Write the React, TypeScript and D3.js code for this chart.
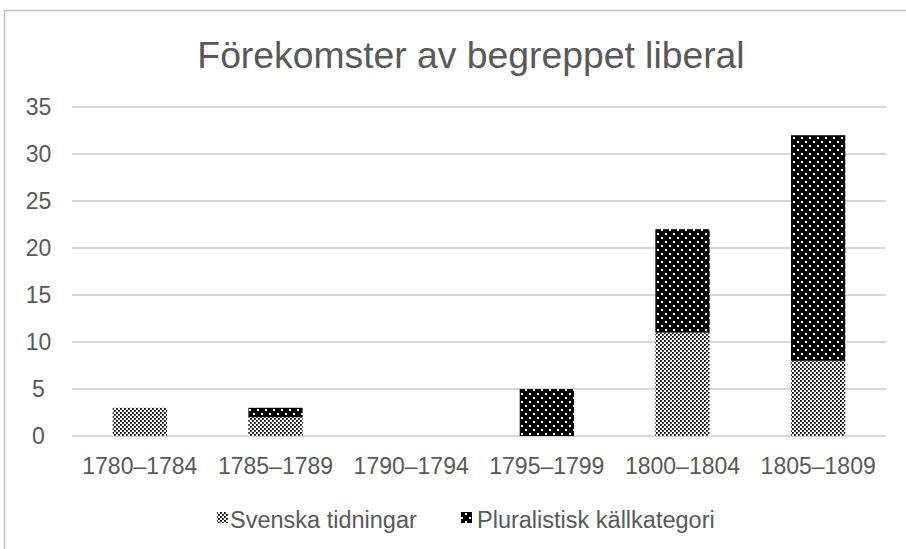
import React from 'react';
import * as d3 from 'd3';

const categories = ['1780–1784', '1785–1789', '1790–1794', '1795–1799', '1800–1804', '1805–1809'];
const svenska = [3, 2, 0, 0, 11, 8];
const pluralistisk = [0, 1, 0, 5, 11, 24];
const seriesNames = ['Svenska tidningar', 'Pluralistisk källkategori'];
const yTicks = [0, 5, 10, 15, 20, 25, 30, 35];

const W = 906, H = 549;
const font = 'Arial, "Liberation Sans", sans-serif';
const textColor = '#595959';

const App = () => {
  const x = d3.scaleBand().domain(categories).range([72, 886]).paddingInner(0.6).paddingOuter(0.3);
  const y = d3.scaleLinear().domain([0, 35]).range([436, 107]);

  const rows = categories.map((c, i) => ({ cat: c, s: svenska[i], p: pluralistisk[i] }));
  const stack = d3.stack<any>().keys(['s', 'p'])(rows);
  const fills = ['url(#patSv)', 'url(#patPl)'];

  return (
    <svg width={W} height={H} style={{ position: 'absolute', left: 0, top: 0 }}>
      <defs>
        <pattern id="patSv" width="4" height="4" patternUnits="userSpaceOnUse">
          <rect width="4" height="4" fill="#fff" />
          <rect x="0" y="0" width="1.8" height="1.8" fill="#000" />
          <rect x="2" y="2" width="1.8" height="1.8" fill="#000" />
        </pattern>
        <pattern id="patPl" width="8" height="8" patternUnits="userSpaceOnUse">
          <rect width="8" height="8" fill="#000" />
          <rect x="1" y="1" width="2" height="2" fill="#fff" />
          <rect x="5" y="5" width="2" height="2" fill="#fff" />
        </pattern>
      </defs>
      <rect x={4.5} y={10.5} width={W} height={H} fill="#fff" stroke="#bfbfbf" strokeWidth={1.5} />
      <text x={471} y={68} textAnchor="middle" fontFamily={font} fontSize={37.3} fill={textColor}>
        Förekomster av begreppet liberal
      </text>
      {yTicks.map(t => (
        <g key={t}>
          <line x1={72} x2={886} y1={y(t)} y2={y(t)} stroke="#c8c8c8" strokeWidth={1.5} />
          <text x={38.5} y={y(t) + 8} textAnchor="middle" fontFamily={font} fontSize={23} fill={textColor}>{t}</text>
        </g>
      ))}
      {stack.map((layer, li) => (
        <g key={li}>
          {layer.map((d, i) => (d[1] - d[0] > 0 ? (
            <rect key={i} x={x(categories[i])} width={x.bandwidth()} y={y(d[1])} height={y(d[0]) - y(d[1])} fill={fills[li]} />
          ) : null))}
        </g>
      ))}
      {categories.map(c => (
        <text key={c} x={(x(c) as number) + x.bandwidth() / 2} y={474} textAnchor="middle" fontFamily={font} fontSize={23} fill={textColor}>{c}</text>
      ))}
      <g fontFamily={font} fontSize={23.5} fill={textColor}>
        <rect x={217} y={512} width={11} height={11} fill={fills[0]} />
        <text x={230} y={528}>{seriesNames[0]}</text>
        <rect x={461} y={512} width={11} height={11} fill={fills[1]} />
        <text x={477} y={528}>{seriesNames[1]}</text>
      </g>
    </svg>
  );
};

export default App;
